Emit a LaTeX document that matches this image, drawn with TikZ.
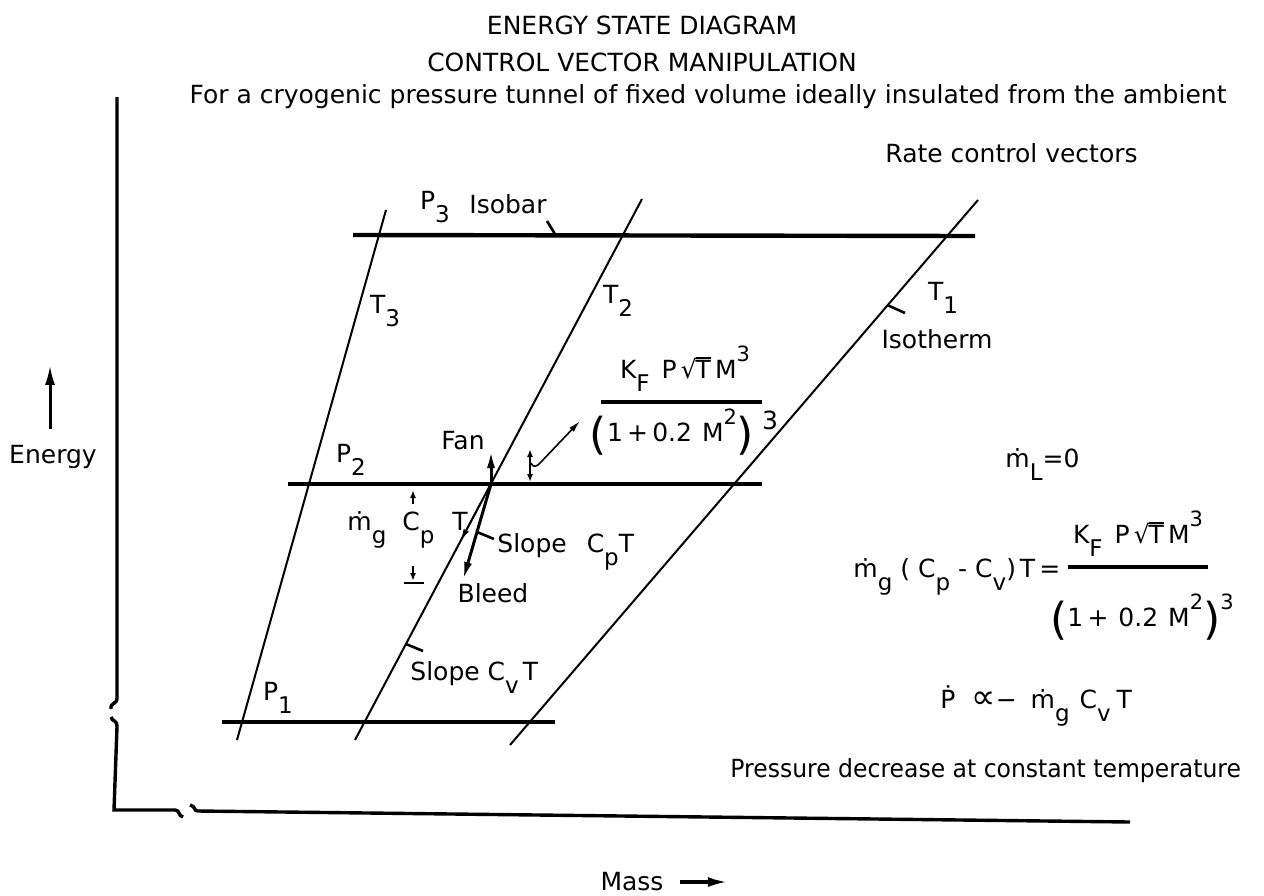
\documentclass[tikz,border=0pt]{standalone}
\usepackage{fontspec}
\setmainfont{DejaVu Sans}
\usetikzlibrary{arrows.meta,calc}

\newcommand\lo[1]{\raisebox{-1ex}{\fontsize{11.5}{12}\selectfont #1}}
\newcommand\hi[1]{\raisebox{1.2ex}{\fontsize{10.5}{11}\selectfont #1}}
\newcommand\bigp[1]{\raisebox{-4pt}{\fontsize{22}{22}\selectfont #1}}
\newcommand\rootT{√\kern-0.6pt\vbox{\hrule height 0.7pt\kern0.6pt\hbox{T}}}

\begin{document}
\begin{tikzpicture}[
  x=0.5pt,y=-0.5pt,
  every node/.style={font=\fontsize{12.5}{15}\selectfont,inner sep=0pt},
  isobar/.style={line width=2.2pt},
  isotherm/.style={line width=1pt},
  axisline/.style={line width=1.7pt},
  vec/.style={line width=1.5pt,-{Latex[length=9pt,width=4pt]}},
  thinvec/.style={line width=0.8pt,-{Latex[length=6pt,width=3pt]}},
  dimmark/.style={line width=0.8pt,-{Latex[length=4pt,width=3pt]}},
  tick/.style={line width=1.3pt},
  bar/.style={line width=2.4pt}
]
\useasboundingbox (0,0) rectangle (1264,895);

% titles
\node (title1) at (642,25) {ENERGY STATE DIAGRAM};
\node (title2) at (642,62) {CONTROL VECTOR MANIPULATION};
\node (title3) at (708,97) {For a cryogenic pressure tunnel of fixed volume ideally insulated from the ambient};
\node[anchor=west] (rate) at (885,153) {Rate control vectors};

% axes with breaks
\draw[axisline] (117,97) -- (117,698)
  .. controls (117,705) and (110,702) .. (111,709);
\draw[axisline] (111,717) .. controls (112,722) and (117,719) .. (117,727)
  -- (114,810) -- (175,810) .. controls (180,810) and (178,816) .. (183,817);
\draw[axisline] (190,805) .. controls (196,806) and (193,811) .. (198,811)
  -- (1130,822);

\node (energy) at (53,457) {Energy};
\draw[line width=1.5pt,-{Latex[length=10pt,width=5pt]}]
  ([xshift=-1.5pt,yshift=8pt]energy.north) -- ++(0,-64);
\node (mass) at (632,882) {Mass};
\draw[line width=1.7pt,-{Latex[length=10pt,width=5pt]}]
  ([xshift=8pt]mass.east) -- ++(48,0);

% isobars
\coordinate (p3a) at (353,235);
\coordinate (p3b) at (975,236);
\coordinate (p2a) at (288,484);
\coordinate (p2b) at (762,484);
\coordinate (p1a) at (222,722);
\coordinate (p1b) at (555,722);
\draw[isobar] (p3a) -- (p3b);
\draw[isobar] (p2a) -- (p2b);
\draw[isobar] (p1a) -- (p1b);

% isotherms
\coordinate (t3a) at (386,210);
\coordinate (t3b) at (237,740);
\coordinate (t2a) at (642,199);
\coordinate (t2b) at (355,740);
\coordinate (t1a) at (978,200);
\coordinate (t1b) at (510,745);
\draw[isotherm] (t3a) -- (t3b);
\draw[isotherm] (t2a) -- (t2b);
\draw[isotherm] (t1a) -- (t1b);

% labels of the lines
\node (p3lbl) at (435,207) {P\lo{3}};
\node (isob) at (508,204) {Isobar};
\draw[tick] (547,221) -- ($(p3a)!0.326!(p3b)$);
\node (t3lbl) at (385,311) {T\lo{3}};
\node (t2lbl) at (618,301) {T\lo{2}};
\node (t1lbl) at (943,298) {T\lo{1}};
\node (isot) at (937,339) {Isotherm};
\draw[tick] ($(t1a)!0.193!(t1b)$) -- (905,313);
\node (p2lbl) at (351,460) {P\lo{2}};
\node (p1lbl) at (278,698) {P\lo{1}};

% fan / bleed vectors
\coordinate (jn) at (491,484);
\node (fan) at (463,441) {Fan};
\draw[vec] (jn) -- ++(0,-34);
\coordinate (bl) at (463,580);
\draw[vec] (jn) -- (bl);
\node (bleed) at (493,593) {Bleed};
\draw[thinvec] ($(t2a)!0.562!(t2b)$) -- ($(t2a)!0.632!(t2b)$);
\node[anchor=base west] (slp) at (497,552) {Slope\hspace{10pt}C\lo{p}T};
\draw[tick] ($(jn)!0.5!(bl)$) -- (494,539);
\node[anchor=base west] (slv) at (410,680) {Slope C\lo{v}\,T};
\draw[tick] ($(t2a)!0.8226!(t2b)$) -- (423,651);

% energy added at P2
\node[anchor=base west] (mcp) at (347,530) {ṁ\lo{g}\hspace{8pt}C\lo{p}\hspace{9pt}T};
\draw[dimmark] (413,504) -- (413,490);
\draw[dimmark] (413,566) -- (413,581);
\draw[line width=1.2pt] (404,583) -- (424,583);

% fan power
\node (fnum) at (685,369) {K\lo{F}\hspace{6pt}P\,\rootT\,M\hi{3}};
\draw[bar] (601,402) -- (762,402);
\node (fden) at (684,432) {\bigp{(}1\,+\,0.2\hspace{5pt}M\hi{2}\bigp{)}\raisebox{6pt}{\hspace{4pt}3}};
\draw[dimmark] (530,462) -- (530,482);
\draw[dimmark] (530,470) -- (530,449);
\draw[thinvec] (531,463) .. controls (533,468) and (537,467) .. (541,462) -- (580,421);

% rate relations
\node[anchor=base west] (ml) at (1005,467) {ṁ\lo{L}=0};
\node[anchor=base west] (eqa) at (853,577) {ṁ\lo{g}\hspace{4pt}(\hspace{4pt}C\lo{p}\hspace{4pt}-\hspace{4pt}C\lo{v})\hspace{2pt}T\hspace{2pt}=};
\node (gnum) at (1138,534) {K\lo{F}\hspace{6pt}P\,\rootT\,M\hi{3}};
\draw[bar] (1068,567) -- (1208,567);
\node (gden) at (1142,617) {\bigp{(}1\,+\hspace{5pt}0.2\hspace{5pt}M\hi{2}\bigp{)}\hi{3}};
\node[anchor=base west] (eqb) at (940,708) {Ṗ\hspace{8pt}{\fontsize{17}{17}\selectfont ∝}−\hspace{7pt}ṁ\lo{g}\hspace{5pt}C\lo{v}\hspace{3pt}T};
\node[anchor=base west] (pdec) at (730,777) {\scalebox{0.94}[1]{Pressure decrease at constant temperature}};
\end{tikzpicture}
\end{document}
